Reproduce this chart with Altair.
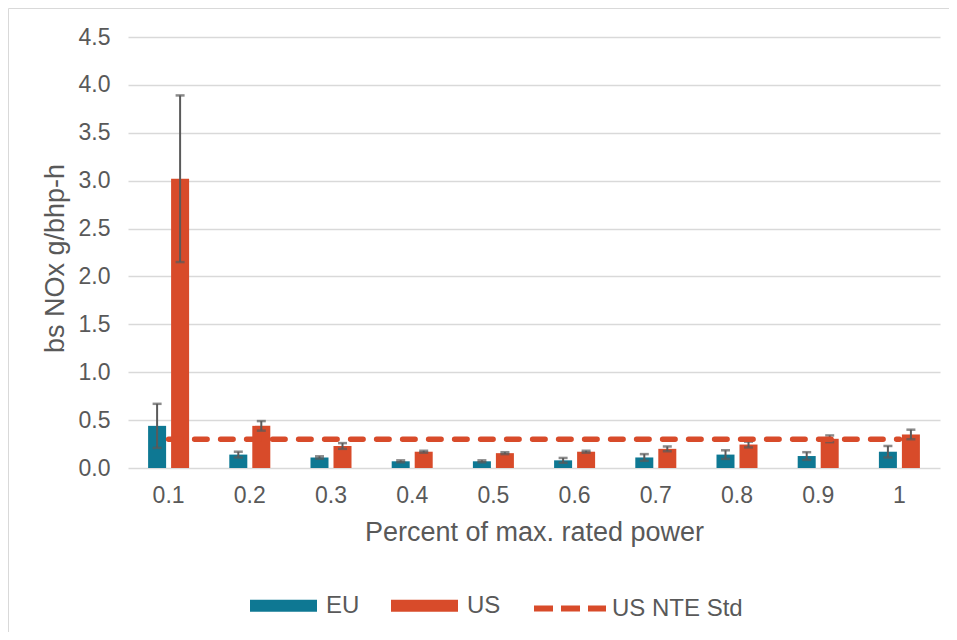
import altair as alt
import pandas as pd

categories = ["0.1", "0.2", "0.3", "0.4", "0.5", "0.6", "0.7", "0.8", "0.9", "1"]
series_names = ["EU", "US"]
eu_values = [0.44, 0.14, 0.11, 0.07, 0.07, 0.08, 0.11, 0.14, 0.125, 0.17]
eu_errors = [0.23, 0.03, 0.012, 0.01, 0.01, 0.025, 0.035, 0.045, 0.04, 0.06]
us_values = [3.02, 0.44, 0.23, 0.17, 0.155, 0.17, 0.20, 0.245, 0.305, 0.35]
us_errors = [0.87, 0.05, 0.03, 0.01, 0.01, 0.01, 0.025, 0.03, 0.035, 0.05]
nte_std = [0.3, 0.3, 0.3, 0.3, 0.3, 0.3, 0.3, 0.3, 0.3, 0.3]
line_name = "US NTE Std"
y_ticks = [0, 0.5, 1.0, 1.5, 2.0, 2.5, 3.0, 3.5, 4.0, 4.5]

TEAL = "#0e7893"
ORANGE = "#d84b2a"
GRAY_TEXT = "#595959"
ERR = "#5a5a5a"
GRID = "#d9d9d9"
FONT = "Liberation Sans"

rows = []
for name, vals, errs in (("EU", eu_values, eu_errors), ("US", us_values, us_errors)):
    for c, v, e in zip(categories, vals, errs):
        rows.append({"category": c, "series": name, "value": v, "lo": v - e, "hi": v + e})
bars_df = pd.DataFrame(rows)
line_df = pd.DataFrame({"category": categories, "series": [line_name] * len(categories), "value": nte_std})
frame_df = pd.DataFrame({"edge": ["frame"]})

x_enc = alt.X(
    "category:N",
    sort=categories,
    scale=alt.Scale(paddingInner=0.495, paddingOuter=0.2475),
    axis=alt.Axis(
        title="Percent of max. rated power",
        labelAngle=0,
        labelFontSize=23,
        labelColor=GRAY_TEXT,
        labelPadding=16,
        ticks=False,
        tickSize=0,
        domain=False,
        grid=False,
        titleFontSize=27,
        titleFontWeight="normal",
        titleColor=GRAY_TEXT,
        titleY=72,
        titleBaseline="alphabetic",
    ),
)
xoff = alt.XOffset("series:N", sort=series_names, scale=alt.Scale(paddingInner=0.217, paddingOuter=0))

y_scale = alt.Scale(domain=[0, 4.5], nice=False)
y_enc = alt.Y(
    "value:Q",
    scale=y_scale,
    axis=alt.Axis(
        title="bs NOx g/bhp-h",
        values=y_ticks,
        format=".1f",
        labelFontSize=23,
        labelColor=GRAY_TEXT,
        labelPadding=18,
        ticks=False,
        tickSize=0,
        domain=False,
        grid=True,
        gridColor=GRID,
        gridWidth=1.5,
        titleFontSize=27,
        titleFontWeight="normal",
        titleColor=GRAY_TEXT,
        titleX=-65,
        titleY=221,
        titleAngle=270,
        titleBaseline="alphabetic",
    ),
)

bars = alt.Chart(bars_df).mark_bar().encode(
    x=x_enc,
    xOffset=xoff,
    y=y_enc,
    color=alt.Color(
        "series:N",
        scale=alt.Scale(domain=series_names, range=[TEAL, ORANGE]),
        legend=alt.Legend(
            orient="none",
            legendX=122,
            legendY=535,
            direction="horizontal",
            title=None,
            symbolType="M-1,-0.18H1V0.18H-1Z",
            symbolSize=4489,
            symbolStrokeWidth=0,
            labelFont=FONT,
            labelFontSize=24,
            labelColor=GRAY_TEXT,
            labelOffset=9,
            columnPadding=31,
            padding=0,
        ),
    ),
)

err_rules = alt.Chart(bars_df).mark_rule(color=ERR, strokeWidth=2).encode(
    x=alt.X("category:N", sort=categories),
    xOffset=alt.XOffset("series:N", sort=series_names),
    y=alt.Y("lo:Q", scale=y_scale),
    y2="hi:Q",
)
cap_lo = alt.Chart(bars_df).mark_tick(color=ERR, size=9, thickness=2.5, orient="horizontal").encode(
    x=alt.X("category:N", sort=categories),
    xOffset=alt.XOffset("series:N", sort=series_names),
    y=alt.Y("lo:Q", scale=y_scale),
)
cap_hi = alt.Chart(bars_df).mark_tick(color=ERR, size=9, thickness=2.5, orient="horizontal").encode(
    x=alt.X("category:N", sort=categories),
    xOffset=alt.XOffset("series:N", sort=series_names),
    y=alt.Y("hi:Q", scale=y_scale),
)

line = alt.Chart(line_df).mark_line(strokeWidth=5.5, strokeDash=[12.5, 13.5], strokeCap="round").encode(
    x=alt.X("category:N", sort=categories),
    y=alt.Y("value:Q", scale=y_scale),
    color=alt.Color(
        "series:N",
        scale=alt.Scale(domain=[line_name], range=[ORANGE]),
        legend=alt.Legend(
            orient="none",
            legendX=403,
            legendY=532.5,
            direction="horizontal",
            title=None,
            symbolType="stroke",
            symbolSize=5184,
            symbolStrokeWidth=6,
            symbolDash=[19, 8],
            labelFont=FONT,
            labelFontSize=24,
            labelColor=GRAY_TEXT,
            labelOffset=3,
            padding=0,
        ),
    ),
)

frame_top = alt.Chart(frame_df).mark_rule(color=GRID, strokeWidth=1).encode(
    x=alt.value(-119.5), x2=alt.value(821), y=alt.value(-28.5)
)
frame_left = alt.Chart(frame_df).mark_rule(color=GRID, strokeWidth=1).encode(
    x=alt.value(-119.5), y=alt.value(-28.5), y2=alt.value(595)
)

chart = (
    alt.layer(frame_top, frame_left, bars, err_rules, cap_lo, cap_hi, line)
    .resolve_scale(color="independent")
    .properties(
        width=812,
        height=431,
        autosize=alt.AutoSizeParams(type="none"),
        padding={"left": 120, "top": 29, "right": 9, "bottom": 164},
    )
    .configure(font=FONT)
    .configure_view(stroke=None)
)

chart.save("out.html", embed_options={"renderer": "svg", "actions": False})
